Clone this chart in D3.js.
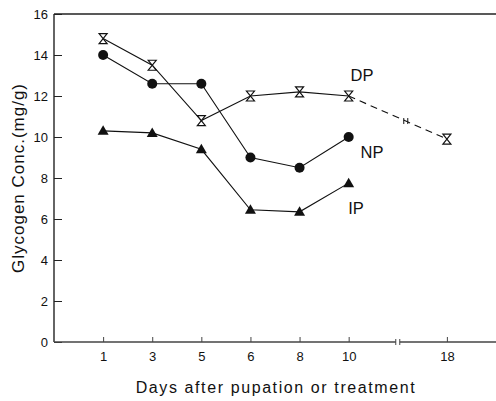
<!DOCTYPE html>
<html lang="en">
<head>
    <meta charset="UTF-8">
    <title>Glycogen concentration after pupation</title>
    <script src="https://d3js.org/d3.v7.min.js"></script>
    <style>
        body, html { margin: 0; background: white; }
        svg { display: block; }
        text { font-family: "Liberation Sans", Arial, sans-serif; fill: #111; }
    </style>
</head>
<body>
    <div id="chart"></div>
    <script>
        // x categories ("break" is the gap in the axis before day 18)
        var days = ["1", "3", "5", "6", "8", "10", "break", "18"];
        var yTicks = [0, 2, 4, 6, 8, 10, 12, 14, 16];

        var dpDays = ["1", "3", "5", "6", "8", "10", "18"];
        var dpValues = [14.8, 13.5, 10.8, 12.0, 12.2, 12.0, 9.9];
        var npDays = ["1", "3", "5", "6", "8", "10"];
        var npValues = [14.0, 12.6, 12.6, 9.0, 8.5, 10.0];
        var ipDays = ["1", "3", "5", "6", "8", "10"];
        var ipValues = [10.3, 10.2, 9.4, 6.45, 6.35, 7.75];

        var width = 496, height = 401;
        var plotLeft = 54, plotRight = 496, plotTop = 14, plotBottom = 342;

        var svg = d3.select("#chart").append("svg")
            .attr("width", width).attr("height", height);

        var x = d3.scalePoint().domain(days).range([plotLeft, plotRight]).padding(1);
        var y = d3.scaleLinear().domain([0, 16]).range([plotBottom, plotTop]);

        // frame: left axis + top border
        svg.append("line").attr("x1", plotLeft).attr("x2", plotLeft).attr("y1", plotTop).attr("y2", plotBottom)
            .attr("stroke", "#111").attr("stroke-width", 1.3);
        svg.append("line").attr("x1", plotLeft).attr("x2", plotRight).attr("y1", plotTop).attr("y2", plotTop)
            .attr("stroke", "#222").attr("stroke-width", 1.3);

        // y axis
        var yAxis = d3.axisRight(y).tickValues(yTicks).tickSize(8).tickFormat(d3.format("d"));
        var gy = svg.append("g").attr("transform", "translate(" + plotLeft + ",0)").call(yAxis);
        gy.select(".domain").remove();
        gy.selectAll("line").attr("stroke", "#222");
        gy.selectAll("text").attr("x", -6).attr("text-anchor", "end")
            .style("font-size", "13px").style("font-family", "Liberation Sans, Arial, sans-serif");

        // x axis with a break
        var xb = x("break");
        svg.append("line").attr("x1", plotLeft).attr("x2", xb - 2).attr("y1", plotBottom).attr("y2", plotBottom)
            .attr("stroke", "#444").attr("stroke-width", 1.3);
        svg.append("line").attr("x1", xb + 2).attr("x2", plotRight).attr("y1", plotBottom).attr("y2", plotBottom)
            .attr("stroke", "#444").attr("stroke-width", 1.3);
        [xb - 2, xb + 2].forEach(function (bx) {
            svg.append("line").attr("x1", bx).attr("x2", bx).attr("y1", plotBottom - 3).attr("y2", plotBottom + 3)
                .attr("stroke", "#444").attr("stroke-width", 1);
        });

        var xAxis = d3.axisTop(x).tickValues(days.filter(d => d !== "break")).tickSize(5);
        var gx = svg.append("g").attr("transform", "translate(0," + plotBottom + ")").call(xAxis);
        gx.select(".domain").remove();
        gx.selectAll("line").attr("stroke", "#444");
        gx.selectAll("text").attr("y", 15).attr("dy", "0.32em")
            .style("font-size", "13px").style("font-family", "Liberation Sans, Arial, sans-serif");

        // axis titles
        svg.append("text").attr("x", 276).attr("y", 393).attr("text-anchor", "middle")
            .style("font-size", "16px").style("letter-spacing", "1.6px")
            .text("Days after pupation or treatment");
        svg.append("text").attr("transform", "translate(24,178) rotate(-90)").attr("text-anchor", "middle")
            .style("font-size", "17px").style("letter-spacing", "1px")
            .text("Glycogen Conc.(mg/g)");

        var line = d3.line().x(d => x(d[0])).y(d => y(d[1]));

        function series(dayList, values) {
            return dayList.map((d, i) => [d, values[i]]);
        }

        var dp = series(dpDays, dpValues);
        var np = series(npDays, npValues);
        var ip = series(ipDays, ipValues);

        // DP: solid to day 10, dashed to day 18
        svg.append("path").datum(dp.slice(0, 6)).attr("d", line)
            .attr("fill", "none").attr("stroke", "#111").attr("stroke-width", 1.1);
        svg.append("path").datum(dp.slice(5)).attr("d", line)
            .attr("fill", "none").attr("stroke", "#111").attr("stroke-width", 1.1)
            .attr("stroke-dasharray", "7,5");
        // break mark on dashed segment
        var p10 = dp[5], p18 = dp[6];
        var bx = xb + 8;
        var by = y(p10[1]) + (y(p18[1]) - y(p10[1])) * (bx - x(p10[0])) / (x(p18[0]) - x(p10[0]));
        [bx - 2, bx + 2].forEach(function (mx) {
            svg.append("line").attr("x1", mx).attr("x2", mx).attr("y1", by - 3).attr("y2", by + 3)
                .attr("stroke", "#111").attr("stroke-width", 1);
        });

        svg.append("path").datum(np).attr("d", line)
            .attr("fill", "none").attr("stroke", "#111").attr("stroke-width", 1.1);
        svg.append("path").datum(ip).attr("d", line)
            .attr("fill", "none").attr("stroke", "#111").attr("stroke-width", 1.1);

        // markers
        svg.selectAll(".np").data(np).enter().append("circle")
            .attr("cx", d => x(d[0])).attr("cy", d => y(d[1])).attr("r", 5)
            .attr("fill", "#111");
        svg.selectAll(".ip").data(ip).enter().append("path")
            .attr("transform", d => "translate(" + x(d[0]) + "," + y(d[1]) + ")")
            .attr("d", "M0,-5.5L5.5,4L-5.5,4Z").attr("fill", "#111");
        svg.selectAll(".dp").data(dp).enter().append("path")
            .attr("transform", d => "translate(" + x(d[0]) + "," + y(d[1]) + ")")
            .attr("d", "M-4,-5L4,-5L-4,5L4,5Z")
            .attr("fill", "white").attr("stroke", "#111").attr("stroke-width", 1.2);

        // series labels
        svg.append("text").attr("x", 362).attr("y", 81).attr("text-anchor", "middle")
            .style("font-size", "16.5px").text("DP");
        svg.append("text").attr("x", 372).attr("y", 158).attr("text-anchor", "middle")
            .style("font-size", "16.5px").text("NP");
        svg.append("text").attr("x", 356).attr("y", 214).attr("text-anchor", "middle")
            .style("font-size", "16.5px").text("IP");
    </script>
</body>
</html>
